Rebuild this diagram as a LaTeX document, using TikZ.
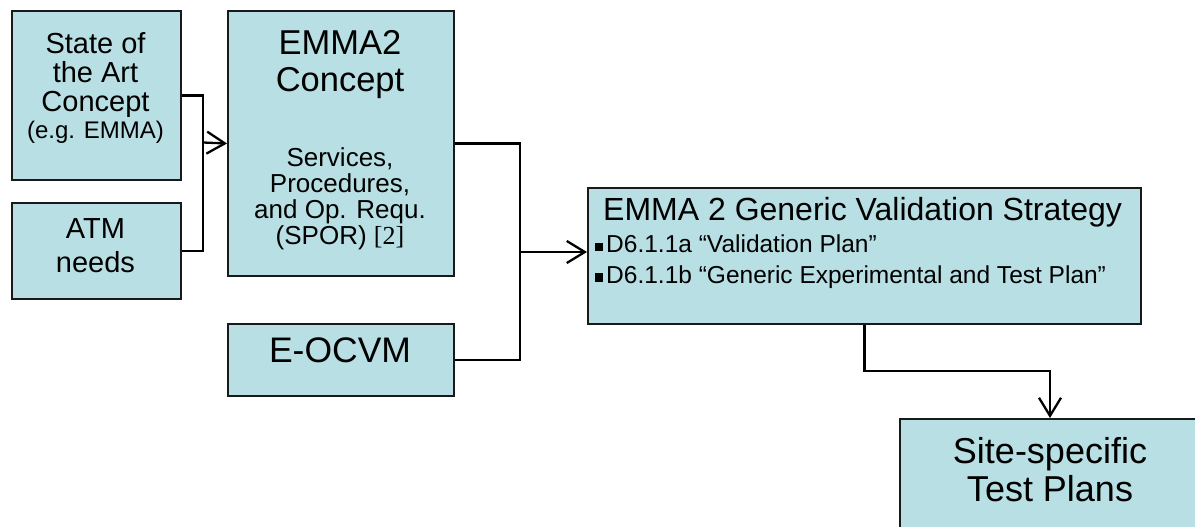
\documentclass[tikz,border=0pt]{standalone}
\usepackage{fontspec}
\setmainfont{Liberation Sans}
\newfontfamily\serifnum{Liberation Serif}
\usetikzlibrary{arrows.meta}
\definecolor{boxfill}{RGB}{184,223,227}
\definecolor{boxline}{RGB}{25,25,25}
\tikzset{
  box/.style={draw=boxline, line width=2pt, fill=boxfill, inner sep=0pt, anchor=north west},
  txt/.style={inner sep=0pt, align=center, anchor=north},
  link/.style={draw=black, line width=2.3pt},
  arr/.style={link, -{Straight Barb[length=18pt,width=22pt,line width=2.3pt]}},
}
\newcommand{\fs}[2]{\fontsize{#1}{#2}\selectfont}
\newcommand{\bsq}{\makebox[11pt][l]{\raisebox{1.5pt}{\rule{8pt}{8.5pt}}}}
\begin{document}
\begin{tikzpicture}[x=1pt,y=-1pt]
\clip (0,0) rectangle (1195,527);
\useasboundingbox (0,0) rectangle (1195,527);
\fill[white] (0,0) rectangle (1195,527);
% boxes
\node[box, minimum width=169pt, minimum height=169pt] (soa) at (11,10) {};
\node[box, minimum width=169pt, minimum height=96pt] (atm) at (11,202) {};
\node[box, minimum width=226pt, minimum height=265pt] (emma) at (227,10) {};
\node[box, minimum width=226pt, minimum height=72pt] (eocvm) at (227,323) {};
\node[box, minimum width=553pt, minimum height=136pt] (gvs) at (587,187) {};
\node[box, minimum width=300pt, minimum height=130pt] (site) at (899,418) {};
% texts
\node[txt, font=\fs{29}{29}] (soat) at (95.5,32) {State of\\the Art\\Concept};
\node[txt, font=\fs{24}{25}, anchor=base] (soae) at (95.5,139) {(e.g. EMMA)};
\node[txt, font=\fs{29}{34}] (atmt) at (95.5,218) {ATM\\needs};
\node[txt, font=\fs{34.5}{37}] (emmat) at (340,30) {EMMA2\\Concept};
\node[txt, font=\fs{26}{26.3}] (emmas) at (340,147) {Services,\\Procedures,\\and Op. Requ.\\(SPOR) {\serifnum [2]}};
\node[txt, font=\fs{35.5}{40}] (eocvmt) at (340,338) {E-OCVM};
\node[txt, font=\fs{32}{36}, anchor=north west] (gvst) at (603,197) {EMMA 2 Generic Validation Strategy};
\node[txt, font=\fs{24.5}{30.5}, anchor=north west, align=left] (gvsb) at (595,235) {\bsq D6.1.1a “Validation Plan”\\\bsq D6.1.1b “Generic Experimental and Test Plan”};
\node[txt, font=\fs{36}{38.5}] (sitet) at (1050,437) {Site-specific\\Test Plans};
% connectors
\coordinate (j1) at (203,142.5);
\coordinate (j2) at (520,252);
\coordinate (j3) at (863.5,371);
\draw[link] (soa.east) -| (j1) |- (atm.east);
\draw[arr] (j1) -- (emma.west);
\draw[link] (emma.east) -| (j2) |- (eocvm.east);
\draw[arr] (j2) -- (j2 -| gvs.west);
\draw[arr] (gvs.south) -- (gvs.south |- j3) -| (site.north);
\end{tikzpicture}
\end{document}
